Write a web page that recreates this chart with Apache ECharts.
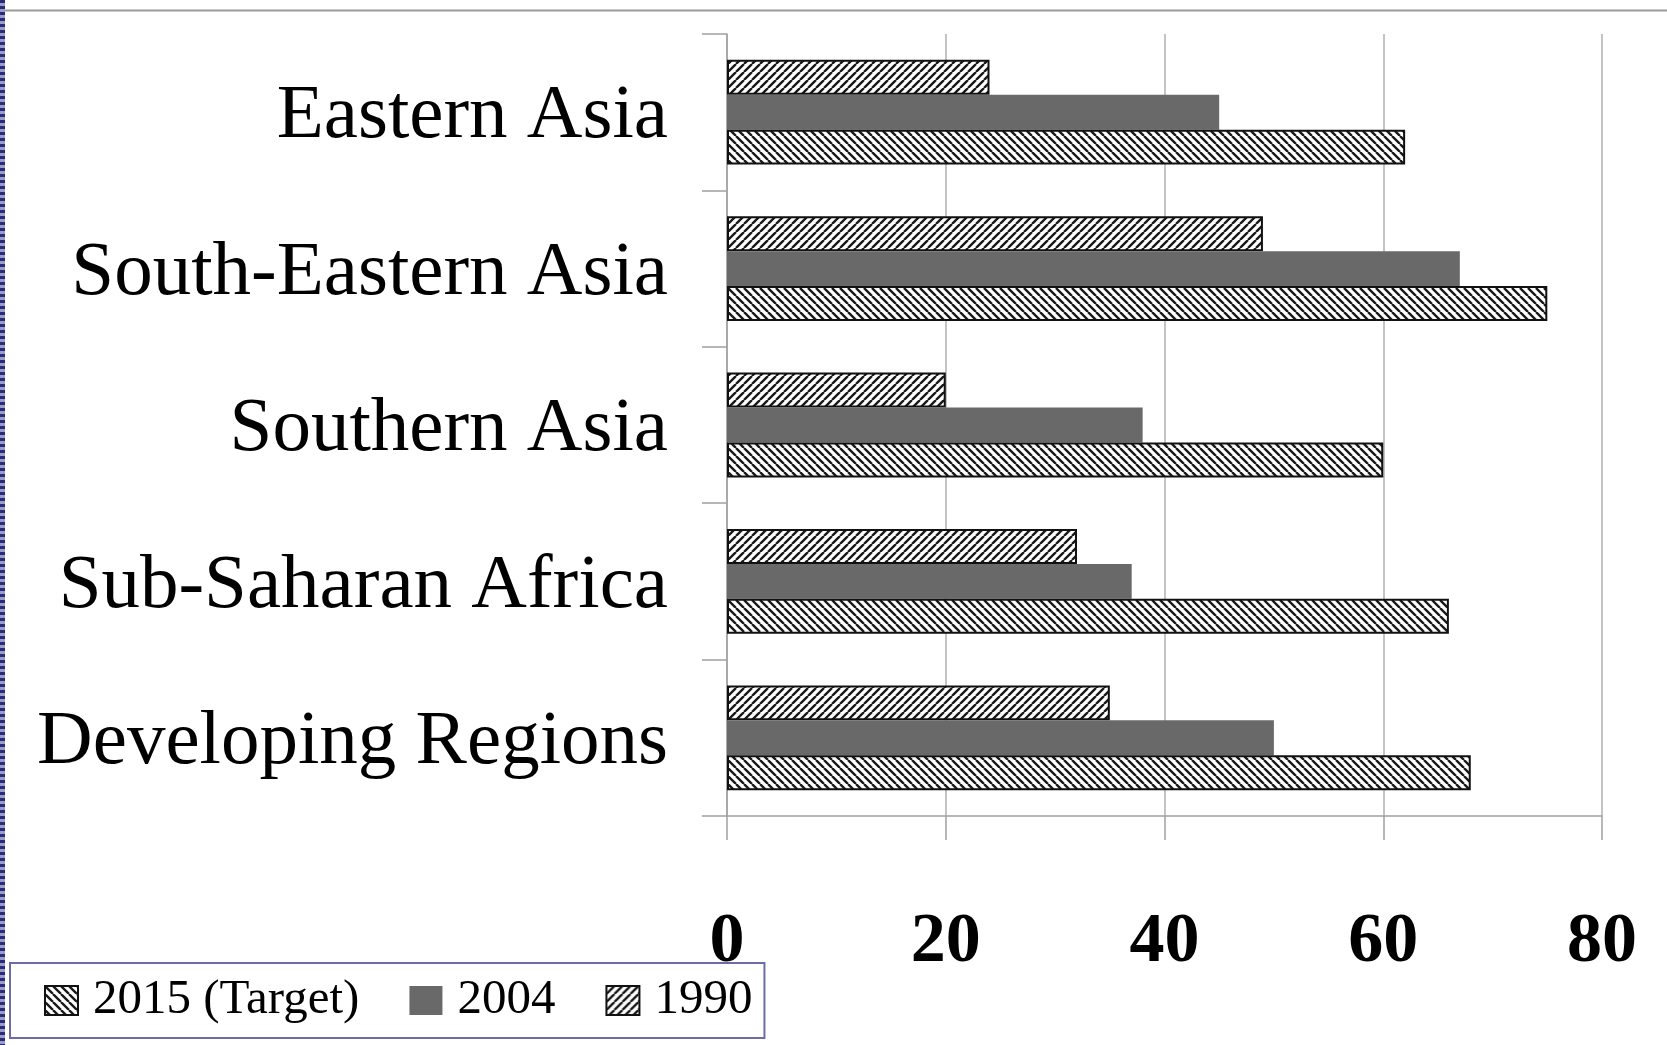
<!DOCTYPE html>
<html>
<head>
<meta charset="utf-8">
<script src="https://cdn.jsdelivr.net/npm/echarts@6/dist/echarts.min.js"></script>
<style>
html,body{margin:0;padding:0;background:#fff;}
#chart{width:1667px;height:1045px;}
</style>
</head>
<body>
<div id="chart"></div>
<script>
// Categories listed bottom-to-top (ECharts category y axis starts at the bottom)
const categories = ['Developing Regions', 'Sub-Saharan Africa', 'Southern Asia', 'South-Eastern Asia', 'Eastern Asia'];
const legendOrder = ['2015 (Target)', '2004', '1990'];
const values2015 = [68, 66, 60, 75, 62];
const values2004 = [50, 37, 38, 67, 45];
const values1990 = [35, 32, 20, 49, 24];
const xTicks = [0, 20, 40, 60, 80];

function makeHatch(dir) {
  const s = 8;
  const c = document.createElement('canvas');
  c.width = s; c.height = s;
  const ctx = c.getContext('2d');
  ctx.fillStyle = '#ffffff';
  ctx.fillRect(0, 0, s, s);
  ctx.strokeStyle = '#1a1a1a';
  ctx.lineWidth = 2.4;
  ctx.beginPath();
  for (let k = -1; k <= 1; k++) {
    if (dir === 'up') { ctx.moveTo(k * s, s); ctx.lineTo(k * s + s, 0); }
    else { ctx.moveTo(k * s, 0); ctx.lineTo(k * s + s, s); }
  }
  ctx.stroke();
  return c;
}

const chart = echarts.init(document.getElementById('chart'), null, {renderer: 'canvas'});
const serif = '"Liberation Serif", "Times New Roman", serif';

const hatchDown = {image: makeHatch('down'), repeat: 'repeat'};
const hatchUp = {image: makeHatch('up'), repeat: 'repeat'};

chart.setOption({
  backgroundColor: '#ffffff',
  animation: false,
  grid: {left: 727, right: 65, top: 34, bottom: 229, containLabel: false},
  xAxis: {
    type: 'value',
    min: xTicks[0], max: xTicks[xTicks.length - 1], interval: 20,
    axisLine: {show: true, lineStyle: {color: '#a0a0a0', width: 1.5}},
    axisTick: {show: true, length: 24, lineStyle: {color: '#a0a0a0', width: 1.5}},
    splitLine: {show: true, lineStyle: {color: '#c4c4c4', width: 2}},
    axisLabel: {fontFamily: serif, fontSize: 70, fontWeight: 'bold', color: '#000', margin: 92}
  },
  yAxis: {
    type: 'category',
    data: categories,
    axisLine: {show: true, lineStyle: {color: '#a0a0a0', width: 1.5}},
    axisTick: {show: true, length: 25, alignWithLabel: false, lineStyle: {color: '#a0a0a0', width: 1.5}},
    splitLine: {show: false},
    axisLabel: {
      margin: 59,
      formatter: function (v) { return '{s| }\n{l|' + v + '}'; },
      rich: {
        s: {fontSize: 2, lineHeight: 10},
        l: {fontFamily: serif, fontSize: 77, color: '#000'}
      }
    }
  },
  legend: {
    data: legendOrder,
    left: 10, top: 963,
    orient: 'horizontal',
    icon: 'rect',
    itemWidth: 33, itemHeight: 29,
    itemGap: 50,
    borderColor: '#6c6ca8', borderWidth: 2,
    padding: [13, 12, 13, 34],
    textStyle: {fontFamily: serif, fontSize: 49, color: '#000', padding: [4, 0, 0, 10]}
  },
  series: [
    {
      name: '1990', type: 'bar', data: values1990,
      barGap: '0%', barCategoryGap: '33%',
      itemStyle: {color: hatchUp, borderColor: '#111', borderWidth: 2}
    },
    {
      name: '2004', type: 'bar', data: values2004,
      barGap: '0%', barCategoryGap: '33%',
      itemStyle: {color: '#696969', borderWidth: 0}
    },
    {
      name: '2015 (Target)', type: 'bar', data: values2015,
      barGap: '0%', barCategoryGap: '33%',
      itemStyle: {color: hatchDown, borderColor: '#111', borderWidth: 2}
    }
  ],
  graphic: [
    {type: 'line', shape: {x1: 0, y1: 10.5, x2: 1667, y2: 10.5}, style: {stroke: '#9a9a9a', lineWidth: 2}, silent: true},
    {type: 'rect', shape: {x: 0, y: 0, width: 5, height: 1045}, style: {fill: '#9c9cc8'}, silent: true},
    {type: 'line', shape: {x1: 2.5, y1: 0, x2: 2.5, y2: 1045}, style: {stroke: '#2a2a7a', lineWidth: 5, lineDash: [3, 3]}, silent: true}
  ]
});
</script>
</body>
</html>
